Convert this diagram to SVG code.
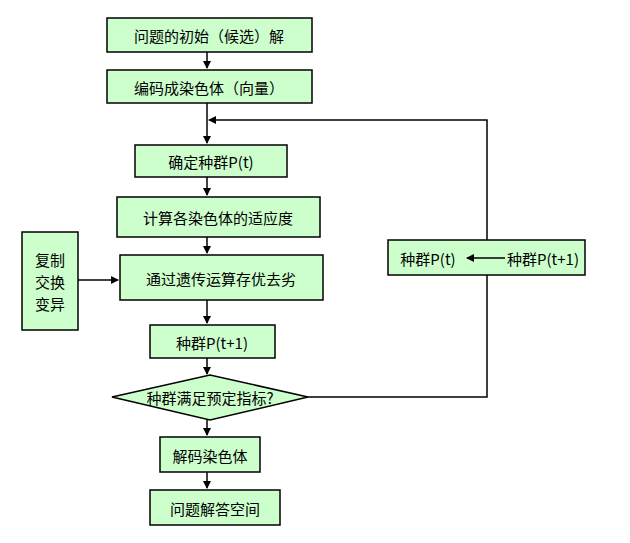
<svg xmlns="http://www.w3.org/2000/svg" width="630" height="543" viewBox="0 0 630 543">
<style>
.n{fill:#ccffcc;stroke:#000;stroke-width:1.5}
.s{fill:#999}
text{font-family:"Noto Sans CJK SC","Liberation Serif",serif;font-size:15px;text-anchor:middle;dominant-baseline:central}
.c{stroke:#000;stroke-width:1.5;fill:none}
</style>
<defs><marker id="a" markerWidth="8" markerHeight="8" refX="7" refY="4" orient="auto" markerUnits="userSpaceOnUse"><path d="M0,0L8,4L0,8z"/></marker></defs>
<rect width="630" height="543" fill="#fff"/>
<g id="connectors">
<path class="c" d="M207,52V68" marker-end="url(#a)"/>
<path class="c" d="M207,103V143" marker-end="url(#a)"/>
<path class="c" d="M487,240V120H209" marker-end="url(#a)"/>
<path class="c" d="M207,177V195" marker-end="url(#a)"/>
<path class="c" d="M207,237V253" marker-end="url(#a)"/>
<path class="c" d="M78,280H118" marker-end="url(#a)"/>
<path class="c" d="M207,300V323" marker-end="url(#a)"/>
<path class="c" d="M207,358V374" marker-end="url(#a)"/>
<path class="c" d="M308,397H487V275"/>
<path class="c" d="M207,420V435" marker-end="url(#a)"/>
<path class="c" d="M207,472V488" marker-end="url(#a)"/>
</g>
<g id="n1"><rect class="n" x="107" y="18" width="205" height="34"/><text x="209" y="35">问题的初始（候选）解</text></g>
<g id="n2"><rect class="n" x="107" y="70" width="205" height="33"/><text x="209" y="87">编码成染色体（向量）</text></g>
<g id="n3"><rect class="n" x="135" y="145" width="152" height="32"/><text x="211" y="161">确定种群P(t)</text></g>
<g id="n4"><rect class="n" x="117" y="197" width="203" height="40"/><text x="218" y="217">计算各染色体的适应度</text></g>
<g id="n5"><rect class="n" x="120" y="255" width="203" height="45"/><text x="221" y="278">通过遗传运算存优去劣</text></g>
<g id="ops"><rect class="n" x="22" y="232" width="56" height="98"/><text x="50" y="259">复制</text><text x="50" y="281">交换</text><text x="50" y="303">变异</text></g>
<g id="n6"><rect class="n" x="150" y="325" width="125" height="33"/><text x="212" y="342">种群P(t+1)</text></g>
<g id="d"><polygon class="n" points="112,397 210,375 308,397 210,420"/><text x="210" y="397">种群满足预定指标?</text></g>
<g id="n7"><rect class="n" x="160" y="437" width="100" height="35"/><text x="210" y="455">解码染色体</text></g>
<g id="n8"><rect class="n" x="150" y="490" width="130" height="35"/><text x="215" y="508">问题解答空间</text></g>
<g id="nr"><rect class="n" x="388" y="240" width="197" height="35"/><text x="428" y="258">种群P(t)</text><path class="c" d="M505,258H467" marker-end="url(#a)"/><text x="543" y="258">种群P(t+1)</text></g>
</svg>
